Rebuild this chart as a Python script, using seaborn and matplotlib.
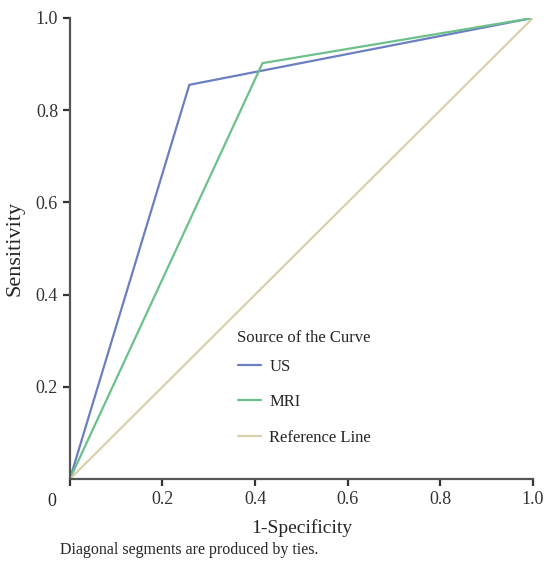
# ROC curves for US and MRI

import pandas as pd
import matplotlib.pyplot as plt
import seaborn as sns

# -----------------------------------
# Data
# -----------------------------------
us_fpr = [0.0, 0.258, 1.0]
us_tpr = [0.0, 0.855, 1.0]
mri_fpr = [0.0, 0.416, 1.0]
mri_tpr = [0.0, 0.902, 1.0]
ref_fpr = [0.0, 1.0]
ref_tpr = [0.0, 1.0]

curves = ["US", "MRI", "Reference Line"]
colors = ["#6b7fc1", "#6cc18a", "#d9d1ad"]

df = pd.concat([
    pd.DataFrame({"fpr": us_fpr, "tpr": us_tpr, "curve": "US"}),
    pd.DataFrame({"fpr": mri_fpr, "tpr": mri_tpr, "curve": "MRI"}),
    pd.DataFrame({"fpr": ref_fpr, "tpr": ref_tpr, "curve": "Reference Line"}),
])

sns.set_style("ticks")
plt.rcParams['font.family'] = ['Liberation Serif', 'DejaVu Serif']

fig = plt.figure(figsize=(5.5, 5.61), dpi=100)
ax = fig.add_axes([0.127, 0.146, 0.842, 0.822])

sns.lineplot(
    data=df, x="fpr", y="tpr", hue="curve",
    hue_order=curves, palette=colors,
    sort=False, estimator=None, linewidth=1.6, ax=ax
)

ax.set_xlim(0, 1)
ax.set_ylim(0, 1)
ax.set_xticks([0, 0.2, 0.4, 0.6, 0.8, 1.0])
ax.set_xticklabels(["", "0.2", "0.4", "0.6", "0.8", "1.0"], fontsize=13)
ax.set_yticks([0.2, 0.4, 0.6, 0.8, 1.0])
ax.set_yticklabels(["0.2", "0.4", "0.6", "0.8", "1.0"], fontsize=13)
ax.text(-0.03, -0.03, "0", ha="right", va="top", fontsize=13)

ax.set_xlabel("1-Specificity", fontsize=14, labelpad=8)
ax.set_ylabel("Sensitivity", fontsize=16, labelpad=8)

for s in ["top", "right"]:
    ax.spines[s].set_visible(False)
for s in ["left", "bottom"]:
    ax.spines[s].set_color("#555555")
    ax.spines[s].set_linewidth(1.6)
ax.tick_params(colors="#333333", width=1.6, length=5)

# legend title drawn separately so the gap under it is tighter
ax.text(0.36, 0.306, "Source of the Curve", fontsize=12, va="center")
leg = ax.legend(
    loc="upper left", bbox_to_anchor=(0.33, 0.294), frameon=False,
    fontsize=12, labelspacing=1.18,
    handlelength=1.4, handletextpad=0.5
)

fig.text(0.109, 0.012, "Diagonal segments are produced by ties.", fontsize=11.5)

plt.savefig("out.png", dpi=100)
